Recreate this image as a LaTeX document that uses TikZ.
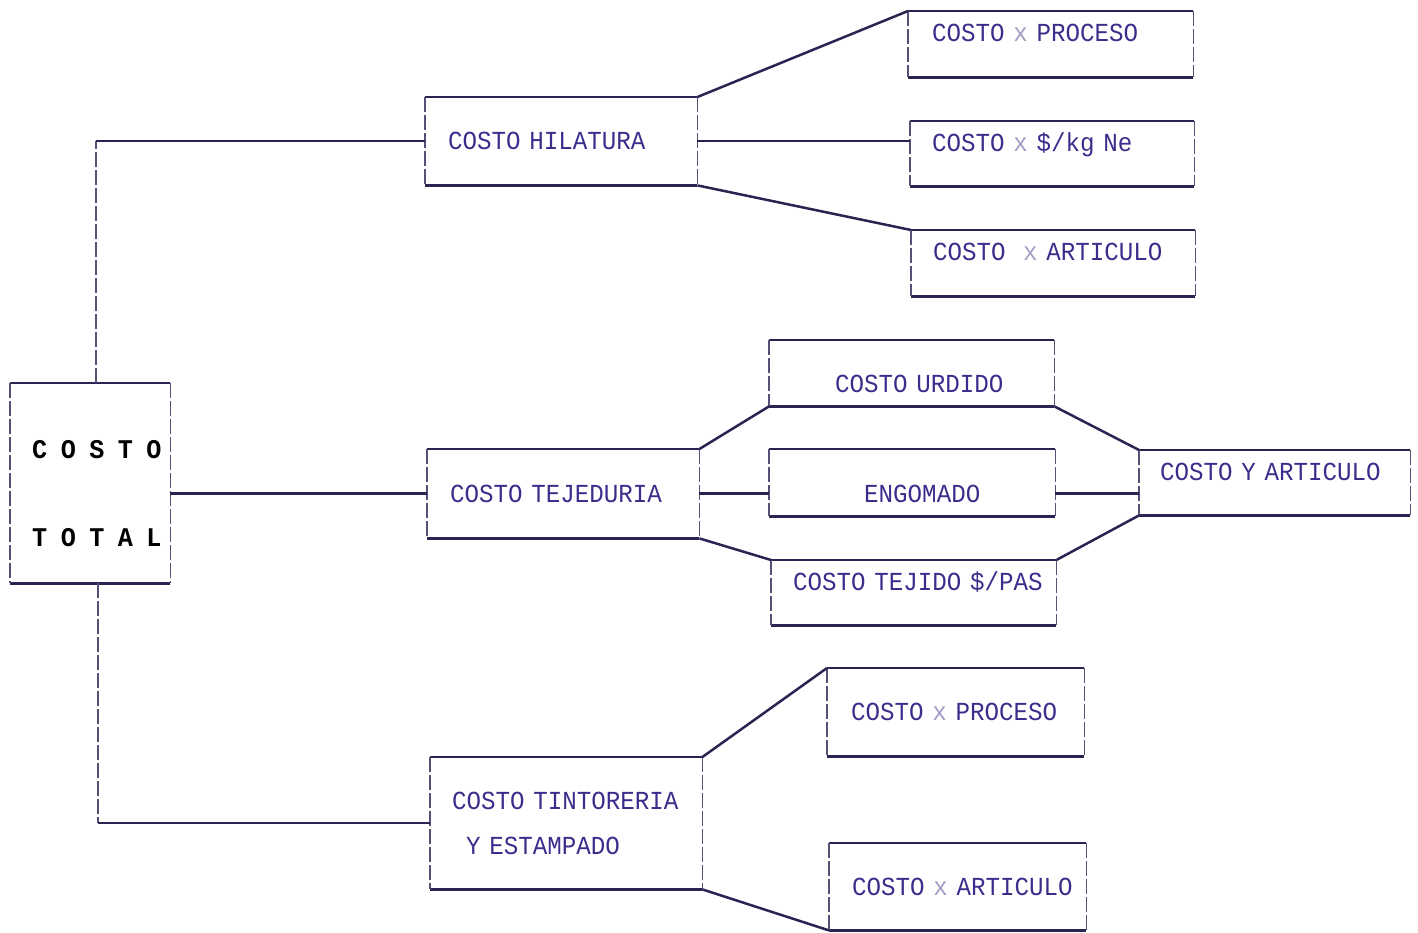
\documentclass[tikz,border=0pt]{standalone}
\usepackage{fontspec}
\newfontfamily\dotfont[FakeStretch=0.93]{Liberation Mono}
\usepackage{tikz}
\definecolor{ink}{HTML}{2B2452}
\definecolor{pen}{HTML}{3A2E8C}
\definecolor{faint}{HTML}{A49CC4}
\newcommand{\caph}{16}
\newcommand{\mult}{{\color{faint}x}}
\tikzset{
	hline/.style={draw=ink, line width=2.5pt},
	vline/.style={draw=ink!80, line width=1.6pt, dash pattern=on 15pt off 3pt},
	cell/.style n args={4}{anchor=north west, inner sep=0pt, align=left, text=pen,
		font=\dotfont\fontsize{26}{45}\selectfont, text width=#1,
		text height=#3+\caph/2, text depth=#2-#3-\caph/2,
		execute at begin node={\leftskip=#4pt}},
}
\begin{document}
\begin{tikzpicture}[x=1pt,y=-1pt]
	\useasboundingbox (0,0) rectangle (1418,932);
	% main block
	\node[cell={160}{200}{67}{22}, text=black, font=\dotfont\bfseries\fontsize{27}{88}\selectfont] (total) at (10,383) {\spaceskip=13.5pt C O S T O\\T O T A L};
	% second level
	\node[cell={272}{88}{44}{23}] (hil) at (425,97) {COSTO HILATURA};
	\node[cell={272}{89}{45}{23}] (tej) at (427,449) {COSTO TEJEDURIA};
	\node[cell={272}{132}{44}{22}] (tin) at (430,757) {COSTO TINTORERIA\\\hspace*{14pt}Y ESTAMPADO};
	% hilatura
	\node[cell={285}{66}{22}{24}] (hpro) at (908,11) {COSTO \mult{} PROCESO};
	\node[cell={284}{65}{22}{22}] (hkg) at (910,121) {COSTO \mult{} \$/kg Ne};
	\node[cell={284}{66}{22}{22}] (hart) at (911,230) {COSTO\ \ \mult{} ARTICULO};
	% tejeduria
	\node[cell={285}{66}{44}{66}] (uru) at (769,340) {COSTO URDIDO};
	\node[cell={286}{67}{45}{95}] (eng) at (769,449) {ENGOMADO};
	\node[cell={285}{65}{22}{22}] (tjd) at (771,560) {COSTO TEJIDO \$/PAS};
	\node[cell={271}{65}{22}{21}] (cxa) at (1139,450) {COSTO Y ARTICULO};
	% tintoreria
	\node[cell={257}{88}{44}{24}] (tpro) at (827,668) {COSTO \mult{} PROCESO};
	\node[cell={257}{87}{44}{23}] (tart) at (829,843) {COSTO \mult{} ARTICULO};
	% frames: solid top and bottom, broken sides
	\foreach \b in {total,hil,tej,tin,hpro,hkg,hart,uru,eng,tjd,cxa,tpro,tart}{
		\draw[hline] (\b.north west) -- (\b.north east) (\b.south west) -- (\b.south east);
		\draw[vline] (\b.north west) -- (\b.south west) (\b.north east) -- (\b.south east);
	}
	% trunk
	\coordinate (up) at ([xshift=6pt]total.north |- hil.west);
	\coordinate (down) at ([xshift=8pt]total.south |- tin.west);
	\draw[vline] ([xshift=6pt]total.north) -- (up); \draw[hline] (up) -- (hil.west);
	\draw[vline] ([xshift=8pt]total.south) -- (down); \draw[hline] (down) -- (tin.west);
	\draw[hline] (total.east |- tej.west) -- (tej.west);
	% branches
	\draw[hline] (hil.north east) -- (hpro.north west);
	\draw[hline] (hil.east) -- (hil.east -| hkg.west);
	\draw[hline] (hil.south east) -- (hart.north west);
	\draw[hline] (tej.north east) -- (uru.south west);
	\draw[hline] (tej.east) -- (tej.east -| eng.west);
	\draw[hline] (tej.south east) -- (tjd.north west);
	\draw[hline] (uru.south east) -- (cxa.north west);
	\draw[hline] (tej.east -| eng.east) -- (tej.east -| cxa.west);
	\draw[hline] (tjd.north east) -- (cxa.south west);
	\draw[hline] (tin.north east) -- (tpro.north west);
	\draw[hline] (tin.south east) -- (tart.south west);
\end{tikzpicture}
\end{document}
